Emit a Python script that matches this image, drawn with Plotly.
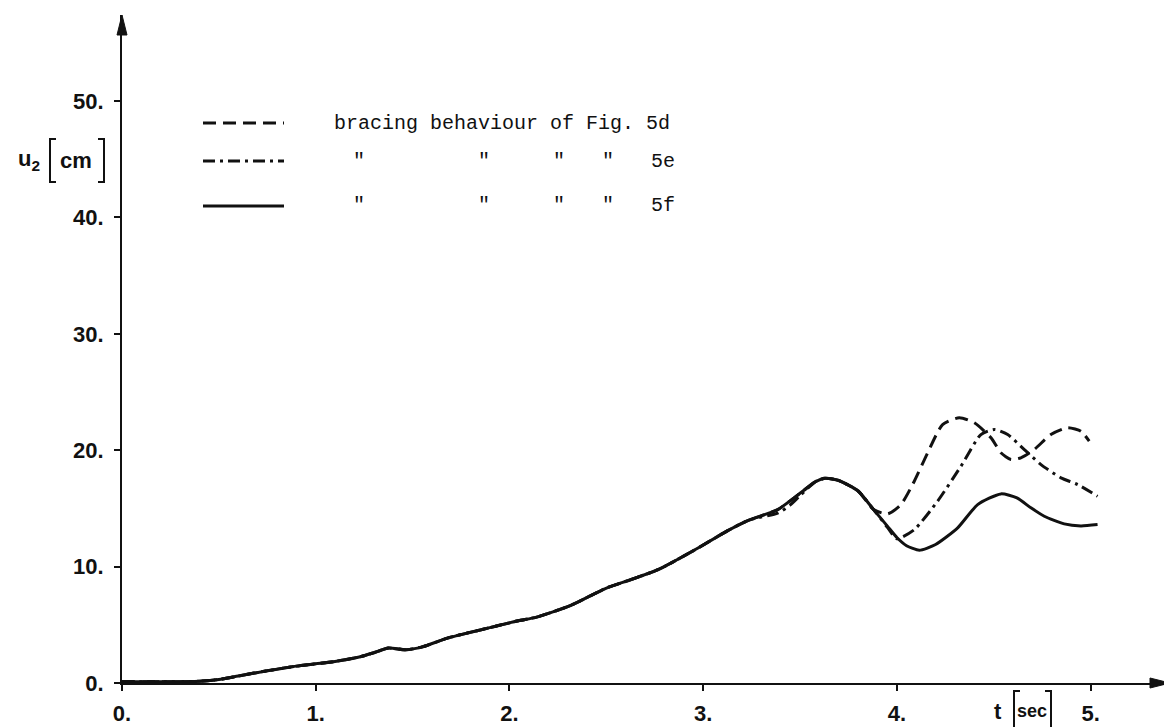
import plotly.graph_objects as go

# ---------------- data ----------------
t_shared = [0.0, 0.2, 0.4, 0.5, 0.6, 0.75, 0.9, 1.0, 1.1, 1.23, 1.3, 1.376, 1.466,
            1.55, 1.684, 1.865, 2.046, 2.136, 2.317, 2.498, 2.625, 2.77, 2.951,
            3.132, 3.24]
u_shared = [0.1, 0.1, 0.15, 0.3, 0.6, 1.05, 1.45, 1.65, 1.85, 2.26, 2.6, 3.0, 2.85,
            3.1, 3.88, 4.62, 5.35, 5.64, 6.67, 8.14, 8.87, 9.76, 11.38,
            13.14, 14.02]

# common section near the first peak (5d and 5f identical here)
t_peak = [3.385, 3.5, 3.58, 3.63, 3.7, 3.8, 3.88]
u_peak = [14.9, 16.3, 17.3, 17.6, 17.4, 16.5, 14.9]

# 5e deviates very slightly before the peak
t_peak_e = [3.385, 3.45, 3.5, 3.58, 3.63, 3.7, 3.8, 3.88, 3.95]
u_peak_e = [14.6, 15.3, 16.1, 17.3, 17.6, 17.4, 16.5, 14.9, 13.4]

t_tail_d = [3.953, 4.021, 4.09, 4.159, 4.236, 4.322, 4.4, 4.486, 4.537, 4.589,
            4.64, 4.709, 4.795, 4.881, 4.95, 4.993]
u_tail_d = [14.53, 15.33, 17.34, 19.78, 22.21, 22.79, 22.36, 21.07, 19.78, 19.2,
            19.35, 20.06, 21.35, 21.93, 21.64, 20.78]

t_tail_e = [4.0, 4.09, 4.21, 4.331, 4.434, 4.503, 4.572, 4.658, 4.744, 4.847,
            4.933, 5.036]
u_tail_e = [12.4, 13.18, 15.62, 18.63, 21.35, 21.78, 21.35, 20.06, 18.77, 17.63,
            17.05, 16.05]

t_tail_f = [3.95, 4.0, 4.05, 4.116, 4.2, 4.314, 4.417, 4.537, 4.62, 4.692, 4.761,
            4.864, 4.95, 5.036]
u_tail_f = [13.5, 12.5, 11.8, 11.41, 11.9, 13.33, 15.33, 16.25, 15.9, 15.05, 14.33,
            13.67, 13.5, 13.61]

x_ticks = [0, 1, 2, 3, 4, 5]
x_tick_labels = ["0.", "1.", "2.", "3.", "4.", "5."]
y_ticks = [0, 10, 20, 30, 40, 50]
y_tick_labels = ["0.", "10.", "20.", "30.", "40.", "50."]

legend_main = "bracing behaviour of Fig. 5d"
legend_codes = ["5d", "5e", "5f"]

X_MAX = 5.41
Y_MAX = 57.4

# ---------------- figure ----------------
W, H = 1172, 727
L, R, T, B = 114, 10, 7, 52
PW, PH = W - L - R, H - T - B


def px(xp):
    return (xp - L) / PW


def py(yp):
    return (H - B - yp) / PH


INK = "#111111"
line_w = 3

fig = go.Figure()
fig.add_trace(go.Scatter(x=t_shared + t_peak + t_tail_d, y=u_shared + u_peak + u_tail_d,
                         mode="lines", line=dict(color=INK, width=line_w, dash="13px,7px",
                                                 shape="spline", smoothing=0.6),
                         name="5d", showlegend=False))
fig.add_trace(go.Scatter(x=t_shared + t_peak_e + t_tail_e, y=u_shared + u_peak_e + u_tail_e,
                         mode="lines", line=dict(color=INK, width=line_w,
                                                 dash="12px,5px,3px,5px",
                                                 shape="spline", smoothing=0.6),
                         name="5e", showlegend=False))
fig.add_trace(go.Scatter(x=t_shared + t_peak + t_tail_f, y=u_shared + u_peak + u_tail_f,
                         mode="lines", line=dict(color=INK, width=line_w,
                                                 shape="spline", smoothing=0.6),
                         name="5f", showlegend=False))

tick_font = dict(family="Liberation Sans, Arial, sans-serif", size=22, color=INK, weight="bold")

fig.update_layout(
    width=W, height=H,
    margin=dict(l=L, r=R, t=T, b=B, pad=0),
    paper_bgcolor="white", plot_bgcolor="white",
    showlegend=False,
    xaxis=dict(range=[0, X_MAX], tickvals=x_ticks, ticktext=x_tick_labels,
               showgrid=False, zeroline=False, showline=True, linecolor=INK, linewidth=2,
               ticks="outside", ticklen=6, tickwidth=1.5, tickcolor=INK,
               tickfont=tick_font, ticklabelstandoff=4),
    yaxis=dict(range=[0, Y_MAX], tickvals=y_ticks, ticktext=y_tick_labels,
               showgrid=False, zeroline=False, showline=True, linecolor=INK, linewidth=2,
               ticks="outside", ticklen=6, tickwidth=1.5, tickcolor=INK,
               tickfont=tick_font, ticklabelstandoff=6),
)

# axis arrowheads (filled triangles)
x_tip, y_tip = 1162, 675
fig.add_shape(type="path", xref="paper", yref="paper", fillcolor=INK,
              line=dict(color=INK, width=1),
              path=(f"M {px(x_tip)},{py(y_tip)} L {px(x_tip - 20)},{py(y_tip - 5)} "
                    f"L {px(x_tip - 20)},{py(y_tip + 5)} Z"))
fig.add_shape(type="path", xref="paper", yref="paper", fillcolor=INK,
              line=dict(color=INK, width=1),
              path=(f"M {px(L)},{py(7)} L {px(L - 5)},{py(27)} "
                    f"L {px(L + 5)},{py(27)} Z"))

# ---------------- legend (drawn by hand) ----------------
rows_y = [115, 153, 198]
dashes = ["13px,7px", "12px,5px,3px,5px", "solid"]
for ry, d in zip(rows_y, dashes):
    fig.add_shape(type="line", xref="paper", yref="paper",
                  x0=px(195), x1=px(276), y0=py(ry), y1=py(ry),
                  line=dict(color=INK, width=line_w, dash=d))

mono = dict(family="Liberation Mono, Courier New, monospace", size=20, color=INK)
fig.add_annotation(x=px(324), y=py(rows_y[0]), xref="paper", yref="paper",
                   xanchor="left", yanchor="middle", showarrow=False,
                   text=legend_main, font=mono)
for ry, code in zip(rows_y[1:], legend_codes[1:]):
    for qx in [351, 476, 551, 600]:
        fig.add_annotation(x=px(qx), y=py(ry), xref="paper", yref="paper",
                           xanchor="center", yanchor="middle", showarrow=False,
                           text='"', font=mono)
    fig.add_annotation(x=px(641), y=py(ry), xref="paper", yref="paper",
                       xanchor="left", yanchor="middle", showarrow=False,
                       text=code, font=mono)

# ---------------- axis titles ----------------
bold = dict(family="Liberation Sans, Arial, sans-serif", size=22, color=INK, weight="bold")


def bracket(x_left, y_top, y_bot, left=True, serif=6):
    xs = x_left + serif if left else x_left - serif
    path = (f"M {px(xs)},{py(y_top)} L {px(x_left)},{py(y_top)} "
            f"L {px(x_left)},{py(y_bot)} L {px(xs)},{py(y_bot)}")
    fig.add_shape(type="path", xref="paper", yref="paper", path=path,
                  line=dict(color=INK, width=2))


# u2 [cm]
fig.add_annotation(x=px(8), y=py(152), xref="paper", yref="paper",
                   xanchor="left", yanchor="middle", showarrow=False,
                   text="u<sub>2</sub>", font=bold)
bracket(42, 131, 174, left=True)
fig.add_annotation(x=px(68), y=py(152), xref="paper", yref="paper",
                   xanchor="center", yanchor="middle", showarrow=False,
                   text="cm", font=bold)
bracket(96, 131, 174, left=False)

# t [sec]
fig.add_annotation(x=px(990), y=py(703), xref="paper", yref="paper",
                   xanchor="center", yanchor="middle", showarrow=False,
                   text="t", font=bold)
bracket(1006, 683, 725, left=True)
fig.add_annotation(x=px(1024), y=py(703), xref="paper", yref="paper",
                   xanchor="center", yanchor="middle", showarrow=False,
                   text="sec", font=dict(bold, size=18))
bracket(1043, 683, 725, left=False)

fig.write_html("out.html")
